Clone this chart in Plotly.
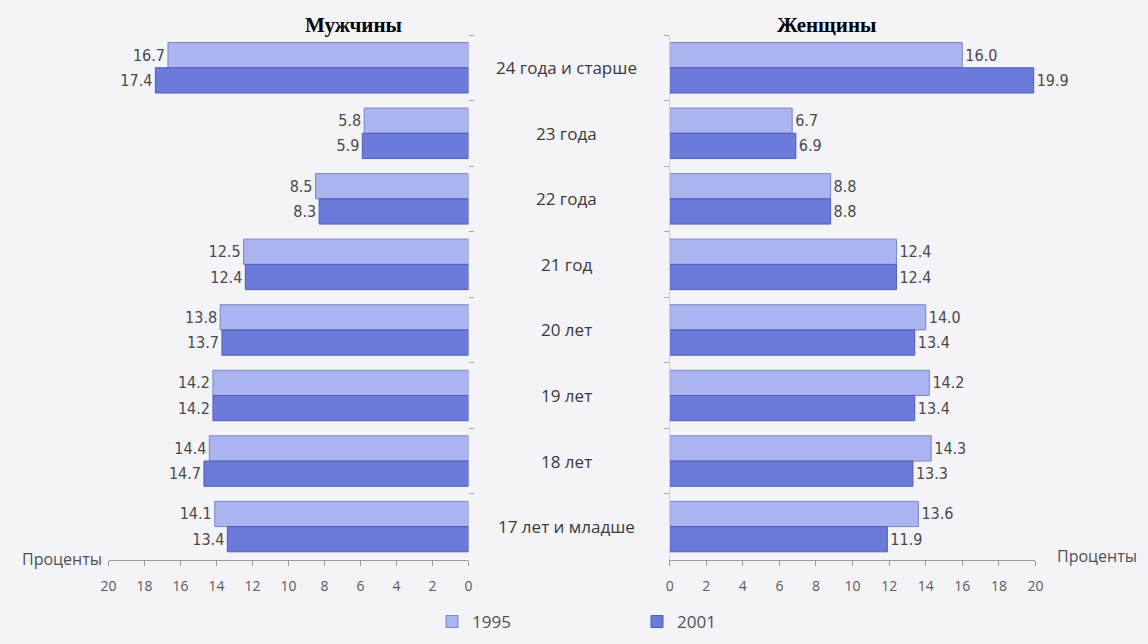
import plotly.graph_objects as go

categories = ["17 лет и младше", "18 лет", "19 лет", "20 лет", "21 год", "22 года", "23 года", "24 года и старше"]
men_1995 = [14.1, 14.4, 14.2, 13.8, 12.5, 8.5, 5.8, 16.7]
men_2001 = [13.4, 14.7, 14.2, 13.7, 12.4, 8.3, 5.9, 17.4]
women_1995 = [13.6, 14.3, 14.2, 14.0, 12.4, 8.8, 6.7, 16.0]
women_2001 = [11.9, 13.3, 13.4, 13.4, 12.4, 8.8, 6.9, 19.9]
years = ["1995", "2001"]
ticks = [0, 2, 4, 6, 8, 10, 12, 14, 16, 18, 20]

W, H = 1148, 644
C95, C01 = "#aab4ef", "#6b7adb"
L95, L01 = "#7d86c4", "#4f5cb3"
BG = "#f4f3f8"
VAL_FONT = dict(family="Liberation Sans Narrow, DejaVu Sans Condensed, Liberation Sans, sans-serif", size=16, color="#4a4a4a")
TXT = "#505050"
SANS = "Open Sans, sans-serif"

pos = list(range(len(categories)))
bw = 0.385

fig = go.Figure()

def add(vals, color, line, offset, xa, ya, name, show):
    fig.add_trace(go.Bar(
        y=pos, x=vals, orientation="h", width=bw, offset=offset,
        marker=dict(color=color, line=dict(color=line, width=1)),
        text=[f"{v:.1f}" for v in vals], textposition="outside",
        textfont=VAL_FONT, cliponaxis=False,
        xaxis=xa, yaxis=ya, name=name, showlegend=show, legendgroup=name,
    ))

add(men_1995, C95, L95, 0, "x", "y", years[0], True)
add(men_2001, C01, L01, -bw, "x", "y", years[1], True)
add(women_1995, C95, L95, 0, "x2", "y2", years[0], False)
add(women_2001, C01, L01, -bw, "x2", "y2", years[1], False)

y_dom = [1 - 560 / H, 1 - 35 / H]
y_rng = [-0.51, 7.5]
xcommon = dict(tickvals=ticks, showline=True, linecolor="#9a9a9a", linewidth=1,
               ticks="outside", tickcolor="#9a9a9a", ticklen=5, showgrid=False, zeroline=False,
               tickfont=dict(family=SANS, size=14, color="#5a5a5a"),
               ticklabelstandoff=8, fixedrange=True)
ycommon = dict(range=y_rng, domain=y_dom, tickvals=[p + 0.5 for p in pos], showticklabels=False,
               ticks="outside", ticklen=5, tickcolor="#aaaaaa", showgrid=False, zeroline=False)

fig.update_layout(
    width=W, height=H, autosize=False, margin=dict(l=0, r=0, t=0, b=0),
    paper_bgcolor=BG, plot_bgcolor="rgba(0,0,0,0)",
    barmode="overlay",
    xaxis=dict(domain=[102 / W, 467 / W], range=[20, 0], anchor="y", **xcommon),
    yaxis=dict(anchor="x", side="right", showline=False, **ycommon),
    xaxis2=dict(domain=[671 / W, 1042 / W], range=[0, 20], anchor="y2", **xcommon),
    yaxis2=dict(anchor="x2", side="left", showline=True, linecolor="#d0d0d8", **ycommon),
    legend=dict(orientation="h", x=430 / W, xanchor="left", y=1 - 622 / H, yanchor="middle",
                entrywidth=160, font=dict(family=SANS, size=17, color=TXT),
                bgcolor="rgba(0,0,0,0)"),
    showlegend=True,
)

for p, c in zip(pos, categories):
    fig.add_annotation(x=566 / W, xref="paper", xanchor="center", y=p, yref="y", yanchor="middle",
                       text=c, showarrow=False,
                       font=dict(family=SANS, size=17, color="#3a3a3a"))

fig.add_annotation(x=97 / W, xref="paper", xanchor="right", y=1 - 559 / H, yref="paper", yanchor="middle",
                   text="Проценты", showarrow=False,
                   font=dict(family=SANS, size=16, color=TXT))
fig.add_annotation(x=1147 / W, xref="paper", xanchor="right", y=1 - 556 / H, yref="paper", yanchor="middle",
                   text="Проценты", showarrow=False,
                   font=dict(family=SANS, size=16, color=TXT))

fig.add_annotation(x=350 / W, xref="paper", xanchor="center", y=1 - 25 / H, yref="paper", yanchor="middle",
                   text="<b>Мужчины</b>", showarrow=False,
                   font=dict(family="Liberation Serif, serif", size=21, color="#000"))
fig.add_annotation(x=830 / W, xref="paper", xanchor="center", y=1 - 25 / H, yref="paper", yanchor="middle",
                   text="<b>Женщины</b>", showarrow=False,
                   font=dict(family="Liberation Serif, serif", size=21, color="#000"))

fig.write_html("out.html", config={"displayModeBar": False, "responsive": False},
               post_script="document.documentElement.style.overflow='hidden';document.body.style.margin='0';document.body.style.overflow='hidden';")
